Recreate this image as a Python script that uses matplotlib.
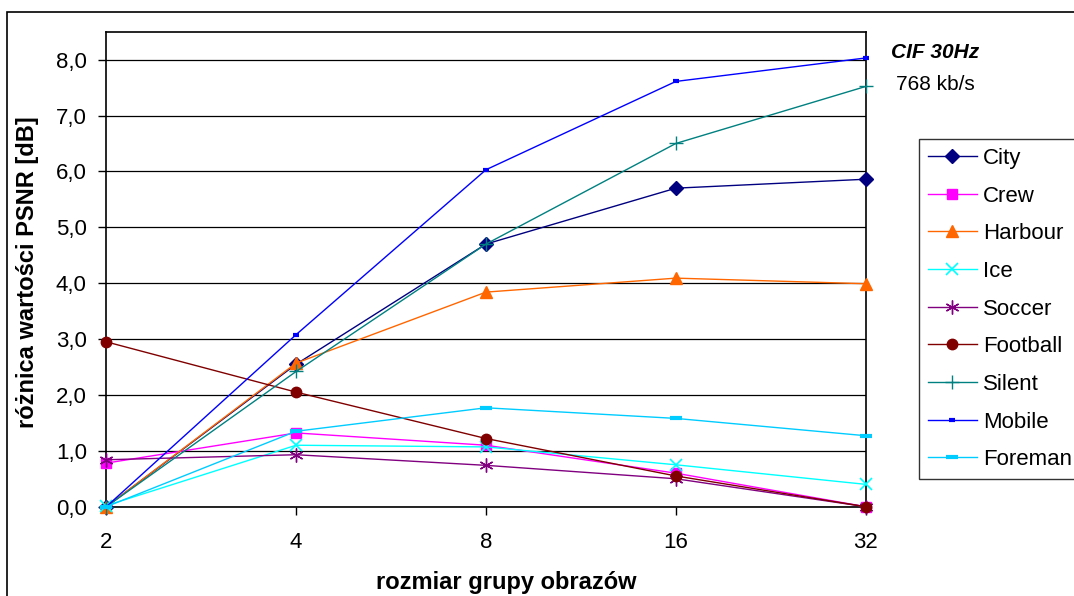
import matplotlib
matplotlib.use("Agg")
import matplotlib.pyplot as plt
from matplotlib.patches import Rectangle

plt.rcParams['font.family'] = ['Liberation Sans', 'DejaVu Sans']

group_sizes = ["2", "4", "8", "16", "32"]

city = [0.0, 2.55, 4.70, 5.70, 5.86]
crew = [0.78, 1.32, 1.10, 0.60, 0.0]
harbour = [0.0, 2.57, 3.84, 4.09, 3.99]
ice = [0.02, 1.10, 1.07, 0.75, 0.40]
soccer = [0.84, 0.93, 0.74, 0.50, 0.0]
football = [2.95, 2.05, 1.22, 0.55, 0.0]
silent = [0.0, 2.42, 4.70, 6.50, 7.52]
mobile = [0.0, 3.08, 6.03, 7.61, 8.03]
foreman = [0.0, 1.35, 1.77, 1.58, 1.27]

y_ticks = [0.0, 1.0, 2.0, 3.0, 4.0, 5.0, 6.0, 7.0, 8.0]

W, H = 1074, 596
FS = 16
fig = plt.figure(figsize=(W / 100, H / 100), dpi=100)

# outer chart frame (continues past the right and bottom edges)
fig.add_artist(Rectangle((7 / W, -0.1), 1.2, 1 - 12 / H + 0.1,
                         transform=fig.transFigure, fill=False,
                         edgecolor='black', linewidth=1.2, clip_on=False))

left, right, top, bottom = 106.3, 865.7, 31.7, 506.7
ax = fig.add_axes([left / W, 1 - bottom / H, (right - left) / W, (bottom - top) / H])

x = list(range(len(group_sizes)))

series = [
    ("City", city, dict(color='#000080', marker='D', markersize=7)),
    ("Crew", crew, dict(color='#FF00FF', marker='s', markersize=7)),
    ("Harbour", harbour, dict(color='#FF6600', marker='^', markersize=8.5)),
    ("Ice", ice, dict(color='#00FFFF', marker='x', markersize=9, markeredgewidth=1.2)),
    ("Soccer", soccer, dict(color='#800080', marker=(6, 2, 0), markersize=10, markeredgewidth=1.0)),
    ("Football", football, dict(color='#800000', marker='o', markersize=7.5)),
    ("Silent", silent, dict(color='#008080', marker='+', markersize=10, markeredgewidth=1.0)),
    ("Mobile", mobile, dict(color='#0000FF', marker='_', markersize=5, markeredgewidth=3)),
    ("Foreman", foreman, dict(color='#00CCFF', marker='_', markersize=8, markeredgewidth=3)),
]

for name, vals, style in series:
    ax.plot(x, vals, label=name, linewidth=1.0, clip_on=False, zorder=3, **style)

ax.set_xlim(0, 4)
ax.set_ylim(0, 8.5)
ax.set_xticks(x)
ax.set_xticklabels(group_sizes)
ax.set_yticks(y_ticks)
ax.set_yticklabels([f"{v:.1f}".replace('.', ',') for v in y_ticks])

ax.grid(axis='y', color='black', linewidth=0.9)
ax.set_axisbelow(True)
for sp in ax.spines.values():
    sp.set_linewidth(1.2)
    sp.set_color('black')

ax.tick_params(axis='x', direction='out', length=6, width=1, pad=12, labelsize=FS)
ax.tick_params(axis='y', direction='out', length=6, width=1, pad=8, labelsize=FS)

ax.set_ylabel("różnica wartości PSNR [dB]", fontsize=17, fontweight='bold')
ax.yaxis.set_label_coords((28 - left) / (right - left), (bottom - 272) / (bottom - top))
ax.yaxis.label.set_va('center')
ax.set_xlabel("rozmiar grupy obrazów", fontsize=17, fontweight='bold')
ax.xaxis.set_label_coords((506 - left) / (right - left), (bottom - 583) / (bottom - top))
ax.xaxis.label.set_va('center')

fig.text(935 / W, 1 - 53 / H, "CIF 30Hz", fontsize=15, fontweight='bold',
         fontstyle='italic', ha='center', va='center')
fig.text(935 / W, 1 - 84 / H, "768 kb/s", fontsize=15, ha='center', va='center')

leg = ax.legend(loc='upper left', bbox_to_anchor=(919 / W, 1 - 139 / H),
                bbox_transform=fig.transFigure, fontsize=FS, frameon=True,
                fancybox=False, shadow=False, borderpad=0.4, handlelength=2.2,
                handletextpad=0.27, labelspacing=0.75, borderaxespad=0.0)
leg.get_frame().set_edgecolor('black')
leg.get_frame().set_linewidth(1.0)

fig.savefig("out.png", dpi=100)
